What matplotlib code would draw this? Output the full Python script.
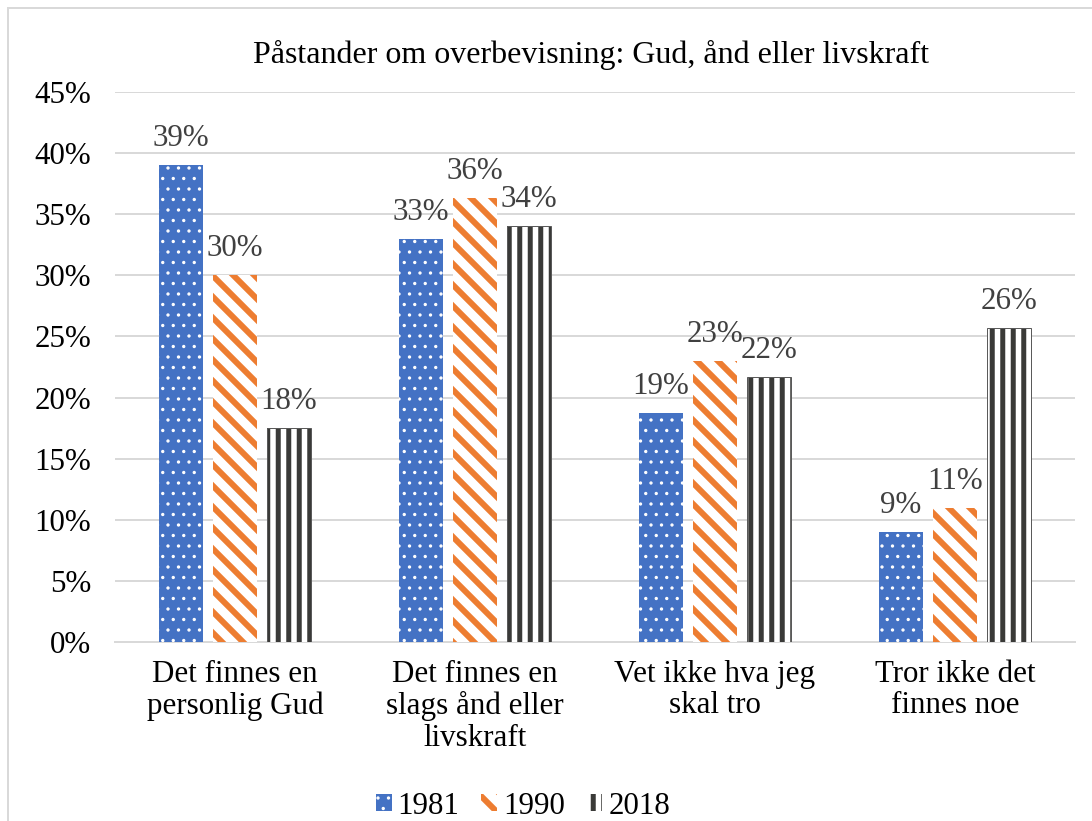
import matplotlib
matplotlib.use("Agg")
import matplotlib.pyplot as plt
from matplotlib.patches import Rectangle
from matplotlib.ticker import PercentFormatter
import numpy as np

categories = ["Det finnes en\npersonlig Gud",
              "Det finnes en\nslags ånd eller\nlivskraft",
              "Vet ikke hva jeg\nskal tro",
              "Tror ikke det\nfinnes noe"]
years = ["1981", "1990", "2018"]
v1981 = [0.39, 0.33, 0.187, 0.09]
v1990 = [0.30, 0.363, 0.23, 0.11]
v2018 = [0.175, 0.34, 0.217, 0.257]
labels1981 = ["39%", "33%", "19%", "9%"]
labels1990 = ["30%", "36%", "23%", "11%"]
labels2018 = ["18%", "34%", "22%", "26%"]
title = "Påstander om overbevisning: Gud, ånd eller livskraft"

DPI = 63
W, H = 1092, 821
PX = 72.0 / DPI  # points per pixel

plt.rcParams['font.family'] = ['Liberation Serif', 'DejaVu Serif']

fig = plt.figure(figsize=(W / DPI, H / DPI), dpi=DPI)
ax = fig.add_axes([115 / W, 1 - 642 / H, 960 / W, 550 / H])

x = np.arange(len(categories))
bw = 0.18
step = 0.225

styles = [
    dict(facecolor="#4472C4", edgecolor="white", hatch=".", hlw=1.2 * PX),
    dict(facecolor="white", edgecolor="#ED7D31", hatch="\\", hlw=6.0 * PX),
    dict(facecolor="white", edgecolor="#3A3A38", hatch="|", hlw=5.0 * PX),
]
series = [v1981, v1990, v2018]
lbls = [labels1981, labels1990, labels2018]

handles = []
for i, (vals, st, lb) in enumerate(zip(series, styles, lbls)):
    with plt.rc_context({"hatch.linewidth": st["hlw"]}):
        bars = ax.bar(x + (i - 1) * step, vals, width=bw, facecolor=st["facecolor"],
                      edgecolor=st["edgecolor"], hatch=st["hatch"], linewidth=0,
                      label=years[i], zorder=3)
    for b in bars:
        if hasattr(b, "set_hatch_linewidth"):
            b.set_hatch_linewidth(st["hlw"])
    if i == 2:
        ax.bar(x + (i - 1) * step, vals, width=bw, facecolor="none",
               edgecolor="#5a5a5a", linewidth=1.0 * PX, zorder=4)
    handles.append(bars[0])
    for xi, v, t in zip(x + (i - 1) * step, vals, lb):
        ax.annotate(t, (xi, v), xytext=(0, 12 * PX), textcoords="offset points",
                    ha="center", va="bottom", fontsize=31 * PX, color="#404040")

ax.set_xlim(-0.5, 3.5)
ax.set_ylim(0, 0.45)
ax.set_yticks(np.arange(0, 0.451, 0.05))
ax.yaxis.set_major_formatter(PercentFormatter(1.0, decimals=0))
ax.set_xticks(x)
ax.set_xticklabels(categories, linespacing=1.1)
ax.tick_params(axis="both", length=0, labelsize=31 * PX, colors="black")
ax.tick_params(axis="y", pad=24 * PX)
ax.tick_params(axis="x", pad=18 * PX)
ax.grid(axis="y", color="#d9d9d9", linewidth=2 * PX, zorder=0)
ax.set_axisbelow(True)
for s in ["left", "right", "top"]:
    ax.spines[s].set_visible(False)
ax.spines["bottom"].set_color("#d9d9d9")
ax.spines["bottom"].set_linewidth(2 * PX)

fig.text(591 / W, 1 - 55 / H, title, ha="center", va="center", fontsize=32 * PX)

leg = fig.legend(handles, years, loc="center", bbox_to_anchor=(523 / W, 1 - 806 / H),
                 ncol=3, frameon=False, fontsize=31 * PX, handlelength=0.5,
                 handleheight=0.5, handletextpad=0.2, columnspacing=0.7)
for h, st in zip(leg.legend_handles, styles):
    if hasattr(h, "set_hatch_linewidth"):
        h.set_hatch_linewidth(st["hlw"])

fig.patches.append(Rectangle((8 / W, -0.5), 2.0, 1.5 - 8 / H, transform=fig.transFigure,
                             fill=False, edgecolor="#d9d9d9", linewidth=2 * PX))

fig.savefig("out.png", dpi=DPI)
